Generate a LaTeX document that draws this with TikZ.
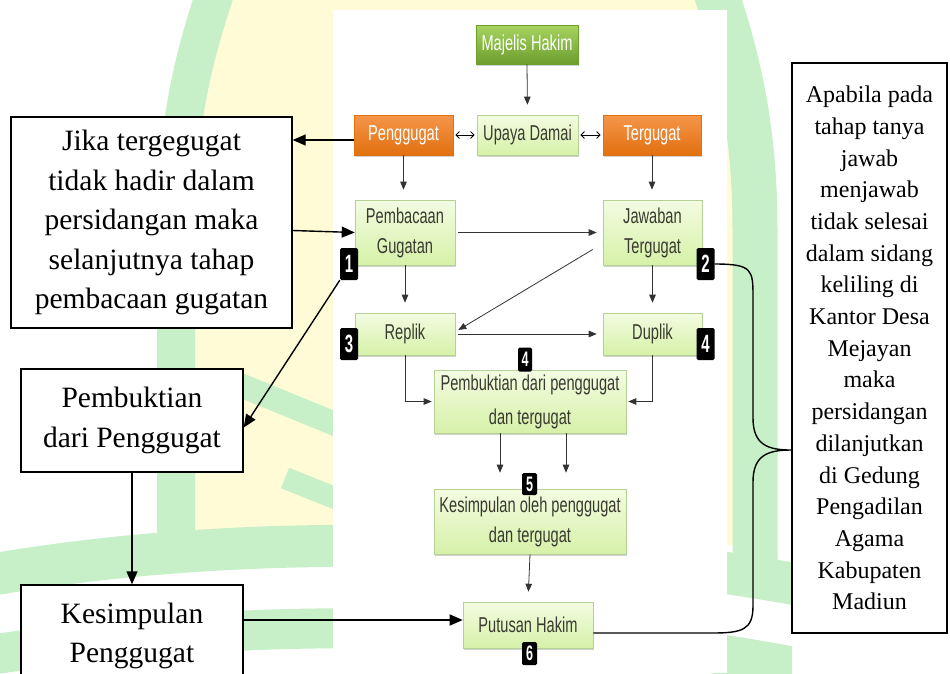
\documentclass[tikz,border=0pt]{standalone}
\usepackage{fontspec}
\setmainfont{Liberation Serif}
\newfontfamily\flowfont{Liberation Sans}[FakeStretch=0.68]
\newfontfamily\badgefont{Liberation Sans}[FakeStretch=0.6]
\usetikzlibrary{arrows.meta,shadows}
\definecolor{wmgreen}{HTML}{C8F0C8}
\definecolor{wmyellow}{HTML}{FFFBD6}
\definecolor{flowtext}{HTML}{3A3A30}
\definecolor{lighttop}{HTML}{F3FCE2}
\definecolor{lightbot}{HTML}{D6F1A8}
\definecolor{lightedge}{HTML}{B6D196}
\definecolor{orangetop}{HTML}{F5964A}
\definecolor{orangebot}{HTML}{E2700F}
\definecolor{greentop}{HTML}{A8D460}
\definecolor{greenbot}{HTML}{6C9E2E}
\begin{document}
\begin{tikzpicture}[x=1pt,y=-1pt,
  flowbase/.style={inner sep=0pt, align=center,
    font=\flowfont\fontsize{21.5}{30}\selectfont,
    drop shadow={shadow xshift=1.2pt,shadow yshift=-1.6pt,fill=black!40,opacity=0.45}},
  lightbox/.style={flowbase, draw=lightedge, line width=0.6pt,
    top color=lighttop, bottom color=lightbot, text=flowtext},
  orangebox/.style={flowbase, draw=orangebot, line width=0.6pt,
    top color=orangetop, bottom color=orangebot, text=white},
  greenbox/.style={flowbase, draw=greenbot, line width=0.6pt,
    top color=greentop, bottom color=greenbot, text=white},
  badge/.style={fill=black, rounded corners=1.5pt, inner sep=0pt, text=white,
    font=\badgefont\bfseries\fontsize{25}{25}\selectfont},
  smallbadge/.style={badge, font=\badgefont\bfseries\fontsize{21}{21}\selectfont},
  wbox/.style={draw=black, line width=1.4pt, fill=white, inner sep=0pt, align=center},
  flowarrow/.style={draw=black!80, line width=0.8pt, -{Triangle[width=6.5pt,length=8pt]}},
  dblarrow/.style={draw=black, line width=0.9pt,
    {Straight Barb[length=3.5pt,width=7pt]}-{Straight Barb[length=3.5pt,width=7pt]}},
  bigarrow/.style={draw=black, line width=1.4pt, -{Triangle[width=11pt,length=13pt]}},
  linkline/.style={draw=black, line width=1.4pt}
]
\useasboundingbox (0,0) rectangle (950,673);
\fill[white] (0,0) rectangle (950,673);

% watermark
\begin{scope}
\clip (0,0) rectangle (792,673);
\fill[wmyellow] (195,545) -- (195,230) .. controls (195,130) and (215,50) .. (235,-10)
  -- (695,-10) .. controls (715,50) and (735,130) .. (735,230) -- (735,545) -- cycle;
\draw[wmgreen, line width=38pt] (176,560) -- (176,230) .. controls (176,120) and (196,50) .. (216,-10);
\draw[wmgreen, line width=45pt] (755,560) -- (755,230) .. controls (755,120) and (735,50) .. (715,-10);
\draw[wmgreen, line width=24pt] (240,385) -- (345,428);
\draw[wmgreen, line width=22pt] (285,478) -- (345,502);
\draw[wmgreen, line width=42pt] (-10,575) .. controls (250,530) and (550,540) .. (800,585);
\draw[wmgreen, line width=40pt] (-10,655) .. controls (250,615) and (550,620) .. (800,668);
\end{scope}

% flowchart panel
\fill[white] (333,10) rectangle (727,673);

% flowchart nodes
\node[greenbox, minimum width=102pt, minimum height=39pt] (mh) at (527,44.5) {Majelis Hakim};
\node[orangebox, minimum width=99pt, minimum height=40pt] (peng) at (403.5,135) {Penggugat};
\node[lightbox, minimum width=101pt, minimum height=40pt] (ud) at (527.5,135) {Upaya Damai};
\node[orangebox, minimum width=98pt, minimum height=40pt] (ter) at (652,135) {Tergugat};
\node[lightbox, minimum width=100pt, minimum height=65pt] (pemb) at (405,232.5) {Pembacaan\\Gugatan};
\node[lightbox, minimum width=99pt, minimum height=65pt] (jaw) at (652.5,232.5) {Jawaban\\Tergugat};
\node[lightbox, minimum width=100pt, minimum height=42pt] (rep) at (405,334) {Replik};
\node[lightbox, minimum width=99pt, minimum height=42pt] (dup) at (652.5,334) {Duplik};
\node[lightbox, minimum width=192pt, minimum height=63pt] (pb) at (530,401.5) {Pembuktian dari penggugat\\[4pt]dan tergugat};
\node[lightbox, minimum width=192pt, minimum height=65pt] (ks) at (530,521.5) {Kesimpulan oleh penggugat\\dan tergugat};
\node[lightbox, minimum width=130pt, minimum height=46pt] (put) at (528,625) {Putusan Hakim};

% badges
\node[badge, minimum width=18pt, minimum height=32pt] (b1) at (349,264) {1};
\node[badge, minimum width=18pt, minimum height=32pt] (b2) at (705.5,264) {2};
\node[badge, minimum width=18pt, minimum height=32pt] (b3) at (349,344) {3};
\node[badge, minimum width=18pt, minimum height=32pt] (b4r) at (705.5,344) {4};
\node[smallbadge, minimum width=14pt, minimum height=24pt] (b4c) at (525,359.5) {4};
\node[smallbadge, minimum width=15pt, minimum height=22pt] (b5) at (529.5,484) {5};
\node[smallbadge, minimum width=15pt, minimum height=23pt] (b6) at (529.5,653.5) {6};

% flowchart connectors
\draw[flowarrow, shorten >=10pt] (mh.south) -- (ud.north);
\draw[dblarrow, shorten <=2pt, shorten >=2pt] (peng.east) -- (ud.west);
\draw[dblarrow, shorten <=2pt, shorten >=2pt] (ud.east) -- (ter.west);
\draw[flowarrow, shorten >=10pt] (peng.south) -- (peng.south |- pemb.north);
\draw[flowarrow, shorten >=10pt] (ter.south) -- (ter.south |- jaw.north);
\draw[flowarrow, shorten <=3pt, shorten >=6pt] (pemb.east) -- (jaw.west);
\draw[flowarrow] ([shift={(-10pt,-17pt)}]jaw.west) -- ([shift={(3pt,4pt)}]rep.east);
\draw[flowarrow, shorten >=10pt] (pemb.south) -- (rep.north);
\draw[flowarrow, shorten >=10pt] (jaw.south) -- (dup.north);
\draw[flowarrow, shorten <=3pt, shorten >=6pt] (rep.east) -- (dup.west);
\draw[flowarrow, shorten >=2pt] (rep.south) |- (pb.west);
\draw[flowarrow, shorten >=2pt] (dup.south) |- (pb.east);
\draw[flowarrow, shorten >=16pt] ([xshift=-30pt]pb.south) -- ([xshift=-30pt]pb.south |- ks.north);
\draw[flowarrow, shorten >=16pt] ([xshift=36pt]pb.south) -- ([xshift=36pt]pb.south |- ks.north);
\draw[flowarrow, shorten >=10pt] (ks.south) -- (put.north);

% left boxes
\node[wbox, minimum width=281pt, minimum height=211pt,
  font=\fontsize{29.5}{39.5}\selectfont] (jika) at (151.5,222.5)
  {Jika tergegugat\\tidak hadir dalam\\persidangan maka\\selanjutnya tahap\\pembacaan gugatan};
\node[wbox, minimum width=222pt, minimum height=103pt,
  font=\fontsize{29.5}{39.5}\selectfont] (pbk) at (132,420.5)
  {Pembuktian\\dari Penggugat};
\node[wbox, minimum width=222pt, minimum height=102pt,
  font=\fontsize{29.5}{39.5}\selectfont] (kes) at (132,636)
  {Kesimpulan\\Penggugat};

% right box
\node[wbox, minimum width=155pt, minimum height=570pt,
  font=\fontsize{24}{31.7}\selectfont] (rb) at (869.5,348)
  {Apabila pada\\tahap tanya\\jawab\\menjawab\\tidak selesai\\dalam sidang\\keliling di\\Kantor Desa\\Mejayan\\maka\\persidangan\\dilanjutkan\\di Gedung\\Pengadilan\\Agama\\Kabupaten\\Madiun};

% left connectors
\draw[bigarrow] ([yshift=-5pt]peng.west) -- ([yshift=-5pt]peng.west -| jika.east);
\draw[bigarrow] ([yshift=-8pt]jika.east) -- (pemb.west);
\draw[bigarrow] (b1.south west) -- ([yshift=-7pt]pbk.east);
\draw[bigarrow] (pbk.south) -- (kes.north);
\draw[bigarrow] ([yshift=16pt]kes.east) -- ([yshift=16pt]kes.east -| put.west);

% brace connector
\coordinate (tipy) at (0,450);
\coordinate (tip) at (rb.west |- tipy);
\draw[linkline] (b2.east) .. controls (753,264) and (753,270) .. (753,298)
  -- (753,418) .. controls (753,445) and (768,450) .. (tip)
  .. controls (768,450) and (753,455) .. (753,482)
  -- (753,606) .. controls (753,630) and (742,633) .. (712,633)
  -- ([yshift=-8pt]put.east);
\end{tikzpicture}
\end{document}
